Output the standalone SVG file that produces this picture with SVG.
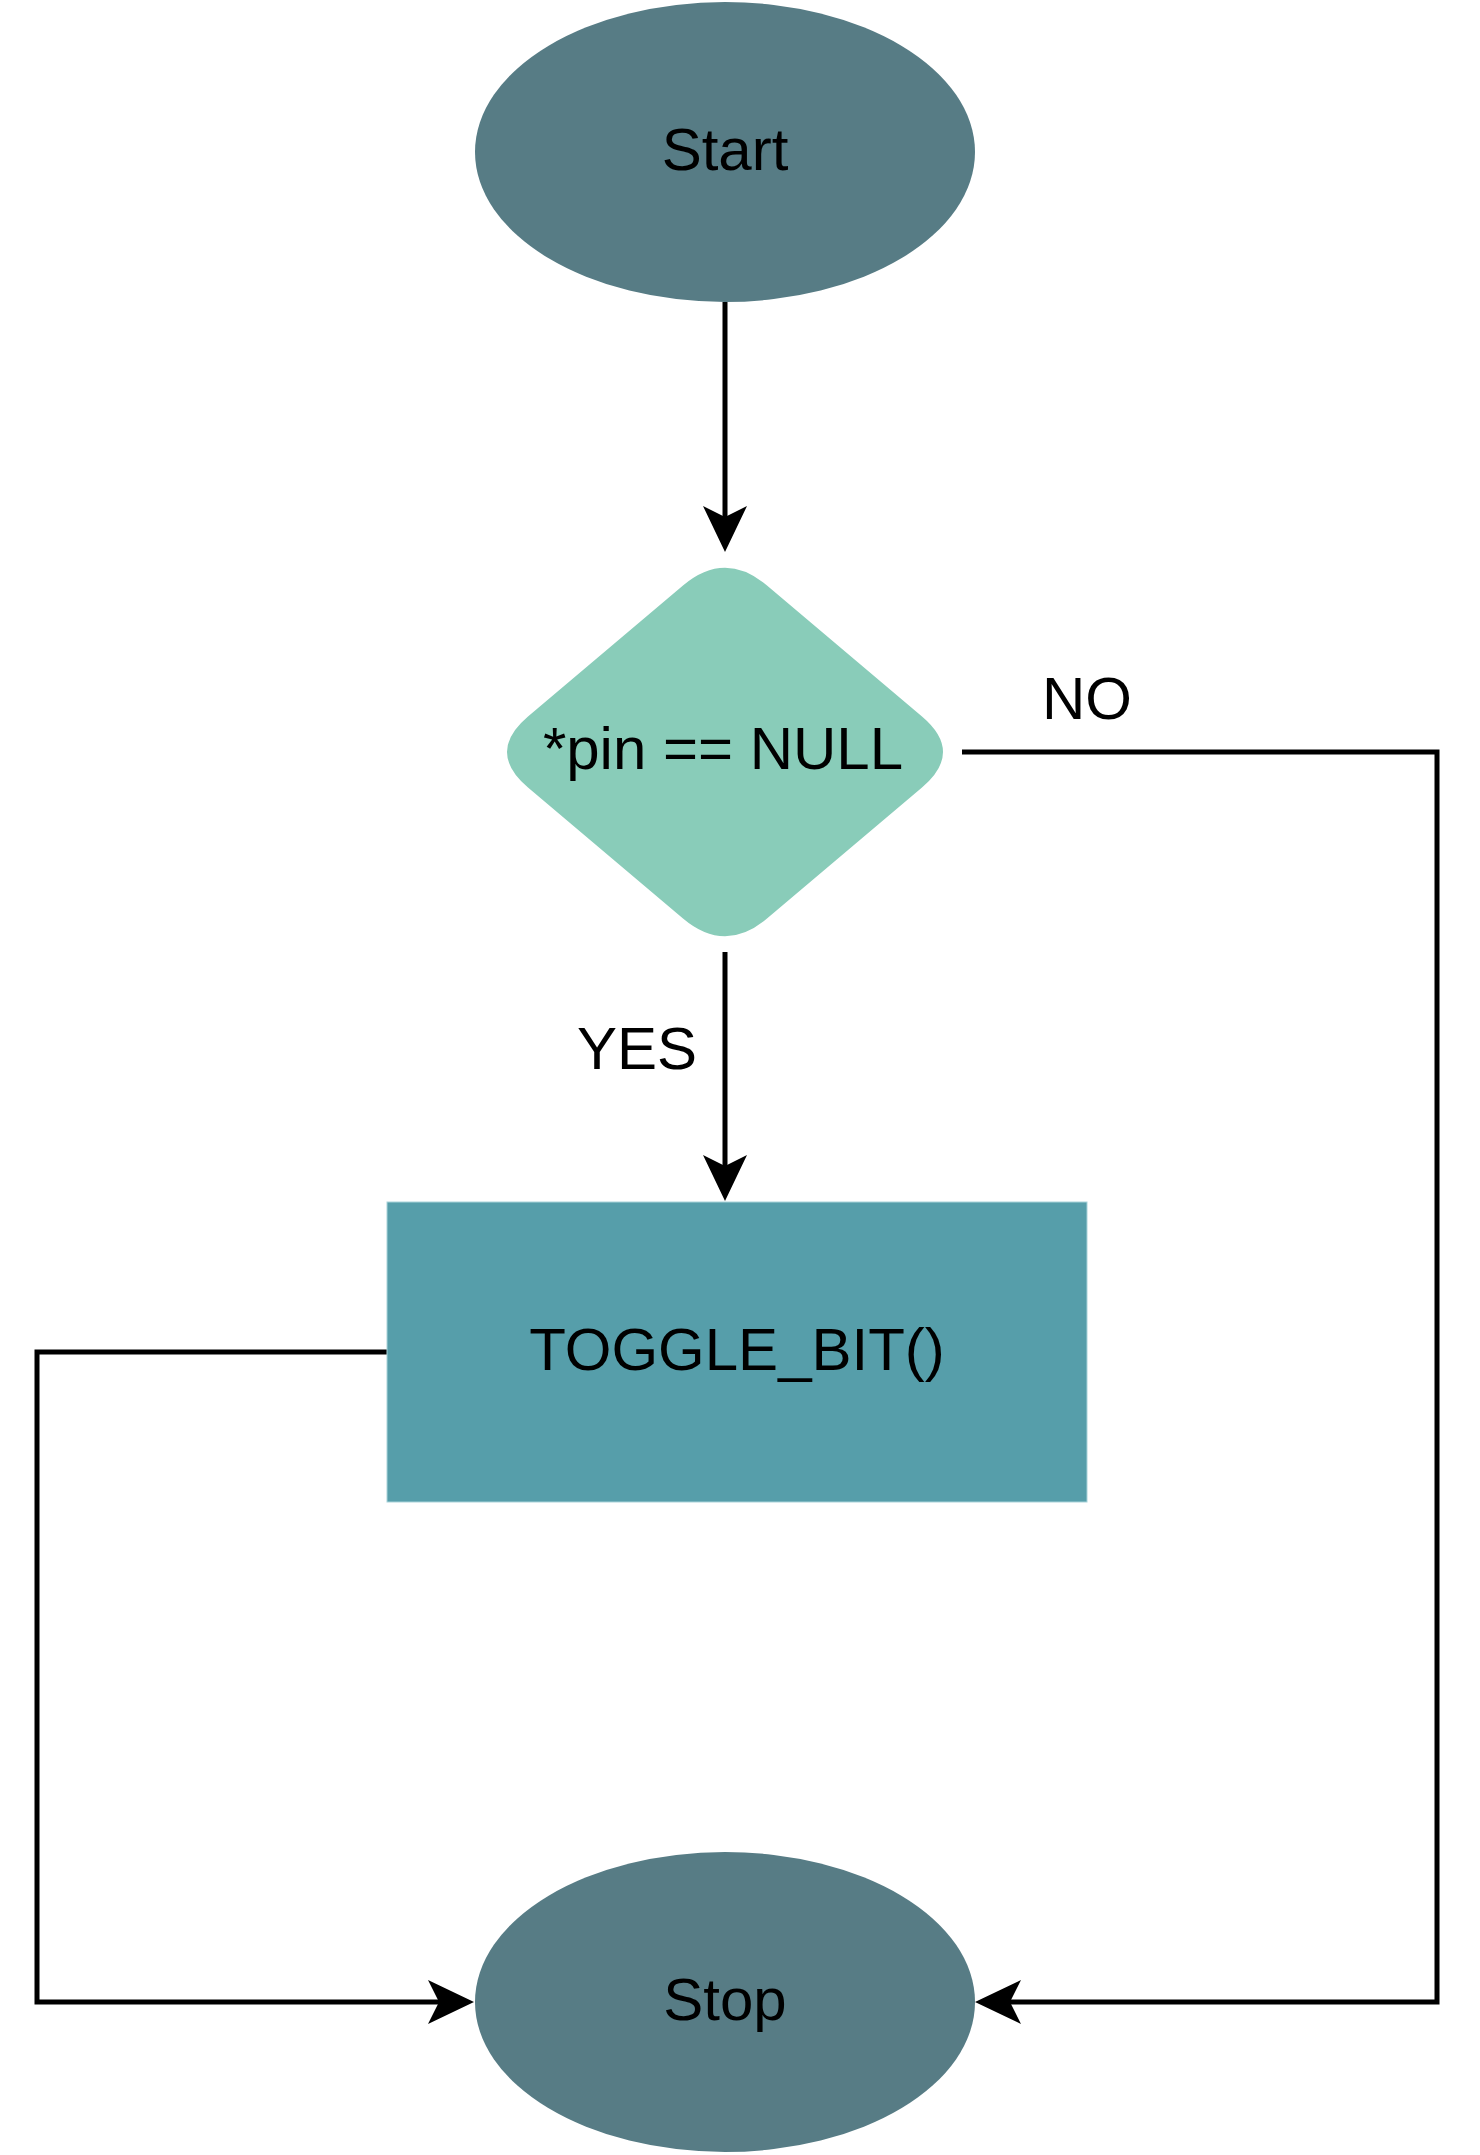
<svg xmlns="http://www.w3.org/2000/svg" width="1480" height="2155" viewBox="0 0 1480 2155">
  <style>
    .lbl { font-family: "Liberation Sans", Arial, sans-serif; font-size: 60px; fill: #000000; }
    .mid { text-anchor: middle; }
    .term { fill: #577C85; }
    .edge { fill: none; stroke: #000000; stroke-width: 5; stroke-linejoin: miter; }
  </style>
  <defs>
    <marker id="arrow" viewBox="-11 -22 46 44" markerWidth="46" markerHeight="44" refX="0" refY="0" markerUnits="userSpaceOnUse" orient="auto">
      <path d="M35,0 L-11,-22 L0,0 L-11,22 Z" fill="#000000"/>
    </marker>
  </defs>
  <rect x="0" y="0" width="1480" height="2155" fill="#FFFFFF"/>

  <g id="connectors">
    <path class="edge" d="M725,302 L725,517" marker-end="url(#arrow)"/>
    <path class="edge" d="M725,952 L725,1166" marker-end="url(#arrow)"/>
    <path class="edge" d="M962,752 L1437,752 L1437,2002 L1010,2002" marker-end="url(#arrow)"/>
    <path class="edge" d="M387,1352 L37,1352 L37,2002 L439,2002" marker-end="url(#arrow)"/>
    <text class="lbl" x="1042" y="719">NO</text>
    <text class="lbl" x="577" y="1069">YES</text>
  </g>

  <g id="node-start">
    <ellipse class="term" cx="725" cy="152" rx="250" ry="150"/>
    <text class="lbl mid" x="725" y="170">Start</text>
  </g>

  <g id="node-decision">
    <path d="M683,585.5 Q725,550 767,585.5 L922,716.5 Q964,752 922,787.5 L767,918.5 Q725,954 683,918.5 L528,787.5 Q486,752 528,716.5 Z" fill="#89CCB9"/>
    <text class="lbl mid" x="723" y="769">*pin == NULL</text>
  </g>

  <g id="node-toggle">
    <rect x="387" y="1202" width="700" height="300" fill="#569EAA" stroke="#A9D3DA" stroke-width="1"/>
    <text class="lbl mid" x="737" y="1370">TOGGLE_BIT()</text>
  </g>

  <g id="node-stop">
    <ellipse class="term" cx="725" cy="2002" rx="250" ry="150"/>
    <text class="lbl mid" x="725" y="2020">Stop</text>
  </g>
</svg>
